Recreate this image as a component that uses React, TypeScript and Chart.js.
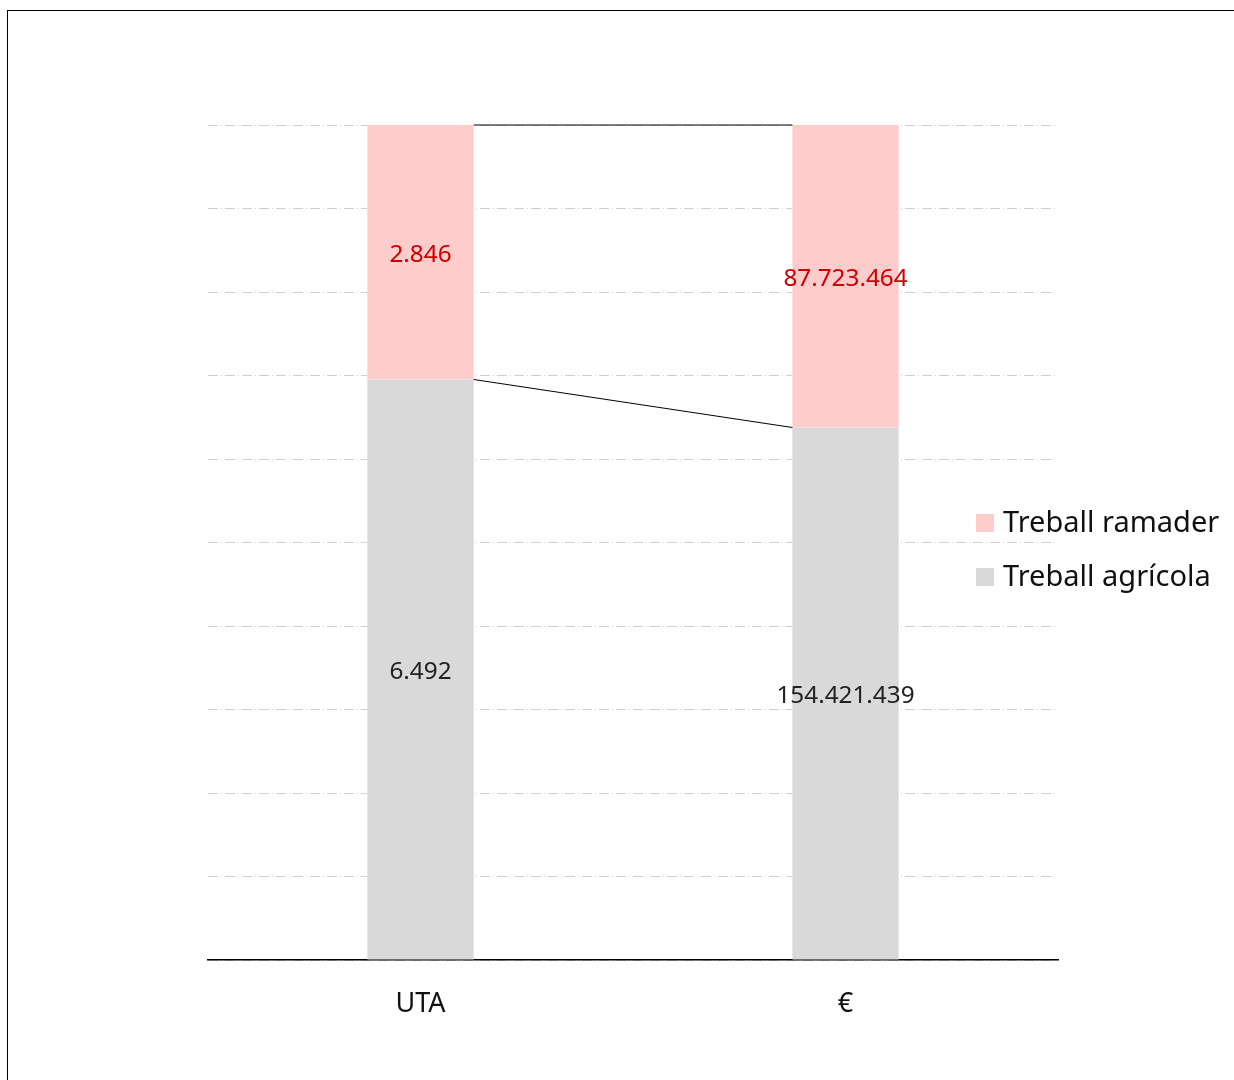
import React, { useEffect, useRef } from "react";
import { Chart, registerables } from "chart.js";

Chart.register(...registerables);

const categories = ["UTA", "€"];
const seriesNames = ["Treball agrícola", "Treball ramader"];
const agricolaValues = [6492, 154421439];
const ramaderValues = [2846, 87723464];
const yTicks = [0, 10, 20, 30, 40, 50, 60, 70, 80, 90, 100];

const barColors = ["#d9d9d9", "#ffcccc"];
const labelColors = ["#222222", "#cc0000"];
const FONT = "'Noto Sans', 'Open Sans', sans-serif";

const fmt = (v: number) => v.toString().replace(/\B(?=(\d{3})+(?!\d))/g, ".");

export default function App() {
  const ref = useRef<HTMLCanvasElement | null>(null);

  useEffect(() => {
    if (!ref.current) return;
    const raw = [agricolaValues, ramaderValues];
    const totals = categories.map((_, i) => agricolaValues[i] + ramaderValues[i]);
    const pct = raw.map((arr) => arr.map((v, i) => (v / totals[i]) * 100));

    const overlay = {
      id: "overlay",
      afterDatasetsDraw(chart: any) {
        const ctx = chart.ctx;
        ctx.save();
        // connector lines
        ctx.strokeStyle = "#000";
        ctx.lineWidth = 1;
        chart.data.datasets.forEach((_: any, di: number) => {
          const meta = chart.getDatasetMeta(di);
          for (let i = 0; i < meta.data.length - 1; i++) {
            const a = meta.data[i];
            const b = meta.data[i + 1];
            ctx.beginPath();
            ctx.moveTo(a.x + a.width / 2, a.y);
            ctx.lineTo(b.x - b.width / 2, b.y);
            ctx.stroke();
          }
        });
        // data labels
        ctx.font = `24.3px ${FONT}`;
        ctx.textAlign = "center";
        ctx.textBaseline = "middle";
        chart.data.datasets.forEach((_: any, di: number) => {
          const meta = chart.getDatasetMeta(di);
          meta.data.forEach((el: any, i: number) => {
            ctx.fillStyle = labelColors[di];
            ctx.fillText(fmt(raw[di][i]), el.x, (el.y + el.base) / 2 + 3);
          });
        });
        // legend
        ctx.font = `29px ${FONT}`;
        ctx.textAlign = "left";
        const lx = chart.chartArea.right - 82;
        const ly0 = 512;
        [1, 0].forEach((di, k) => {
          const cy = ly0 + k * 54;
          ctx.fillStyle = barColors[di];
          ctx.fillRect(lx, cy - 9, 18, 18);
          ctx.fillStyle = "#111";
          ctx.fillText(seriesNames[di], lx + 27, cy + 1);
        });
        ctx.restore();
      },
    };

    const chart = new Chart(ref.current, {
      type: "bar",
      data: {
        labels: categories,
        datasets: seriesNames.map((name, di) => ({
          label: name,
          data: pct[di],
          backgroundColor: barColors[di],
          borderWidth: 0,
          barPercentage: 0.25,
          categoryPercentage: 1,
        })),
      },
      options: {
        animation: false,
        responsive: false,
        maintainAspectRatio: false,
        layout: { padding: { left: 200, right: 176, top: 114, bottom: 0 } },
        plugins: { legend: { display: false }, tooltip: { enabled: false } },
        scales: {
          x: {
            stacked: true,
            grid: { display: false, drawTicks: false },
            border: { display: true, color: "#000", width: 1.5 },
            ticks: {
              color: "#111",
              font: { family: FONT, size: 27 },
              padding: 28,
            },
            afterFit: (s: any) => {
              s.height = 120;
            },
          },
          y: {
            stacked: true,
            min: 0,
            max: 100,
            afterBuildTicks: (s: any) => {
              s.ticks = yTicks.map((v) => ({ value: v }));
            },
            grid: { color: "#d0d0d0", lineWidth: 1, drawTicks: false },
            border: { display: false, dash: [10, 3, 1, 3] },
            ticks: { display: false },
            afterFit: (s: any) => {
              s.width = 0;
            },
          },
        },
      },
      plugins: [overlay],
    });
    return () => chart.destroy();
  }, []);

  return (
    <div
      style={{
        position: "absolute",
        left: 7,
        top: 10,
        width: 1227,
        height: 1070,
        borderLeft: "1px solid #000",
        borderTop: "1px solid #000",
        boxSizing: "border-box",
        overflow: "hidden",
        background: "#fff",
      }}
    >
      <canvas ref={ref} width={1226} height={1069} style={{ display: "block", width: 1226, height: 1069 }} />
    </div>
  );
}
